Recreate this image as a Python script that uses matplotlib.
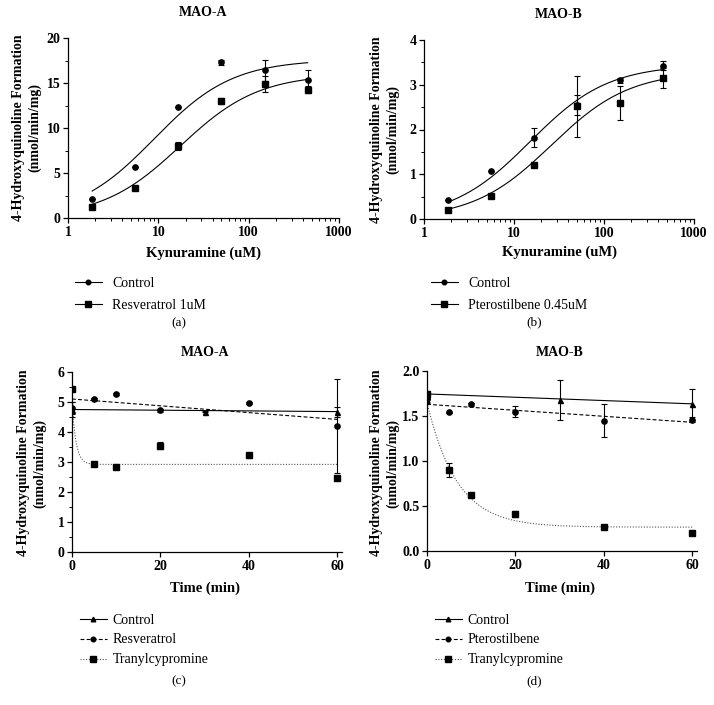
import numpy as np
import matplotlib
matplotlib.use("Agg")
import matplotlib.pyplot as plt
from matplotlib.ticker import LogLocator, MultipleLocator, NullFormatter

plt.rcParams["font.family"] = ["Liberation Serif", "DejaVu Serif"]

# ---- data ----
kyn = [1.85, 5.56, 16.7, 50, 150, 450]

a_ctrl = [2.1, 5.7, 12.35, 17.3, 16.4, 15.3]
a_ctrl_err = [0, 0, 0, 0.25, 1.2, 1.1]
a_resv = [1.25, 3.35, 8.0, 13.0, 14.9, 14.25]
a_resv_err = [0, 0, 0.45, 0.3, 0.9, 0.4]
a_fit_ctrl = (17.6, 9.0)      # Vmax, Km
a_fit_resv = (16.0, 17.5)

b_ctrl = [0.43, 1.07, 1.82, 2.55, 3.1, 3.42]
b_ctrl_err = [0, 0, 0.22, 0.22, 0.05, 0.1]
b_pter = [0.2, 0.52, 1.2, 2.52, 2.6, 3.15]
b_pter_err = [0, 0, 0, 0.68, 0.38, 0.22]
b_fit_ctrl = (3.45, 15.0)
b_fit_pter = (3.3, 26.0)

t_ctrl = [0, 30, 60]
t_trt = [0, 5, 10, 20, 40, 60]

c_ctrl = [4.75, 4.68, 4.68]
c_ctrl_err = [0.25, 0.02, 0.17]
c_resv = [4.8, 5.1, 5.27, 4.73, 4.97, 4.2]
c_resv_err = [0.2, 0.03, 0.03, 0.05, 0.03, 1.57]
c_tran = [5.45, 2.94, 2.83, 3.55, 3.22, 2.48]
c_tran_err = [0.05, 0.05, 0.03, 0.12, 0.07, 0.05]
c_fit_ctrl = (4.75, 4.68)     # start, end of linear fit
c_fit_resv = (5.1, 4.42)
c_fit_tran = (5.0, 2.92, 1.1)  # y0, plateau, k

d_ctrl = [1.72, 1.68, 1.63]
d_ctrl_err = [0.06, 0.22, 0.17]
d_pter = [1.69, 1.54, 1.63, 1.55, 1.45, 1.46]
d_pter_err = [0.04, 0.01, 0.02, 0.06, 0.18, 0.03]
d_tran = [1.74, 0.9, 0.62, 0.41, 0.27, 0.2]
d_tran_err = [0.03, 0.08, 0.01, 0.03, 0.01, 0.01]
d_fit_ctrl = (1.745, 1.635)
d_fit_pter = (1.63, 1.43)
d_fit_tran = (1.65, 0.265, 0.148)

ylab = "4-Hydroxyquinoline Formation\n(nmol/min/mg)"

W, H = 714, 705
fig = plt.figure(figsize=(W / 100, H / 100), dpi=100)


def box(l, r, t, b):
    return [l / W, 1 - b / H, (r - l) / W, (b - t) / H]


def style(ax):
    for s in ["top", "right"]:
        ax.spines[s].set_visible(False)
    for s in ["left", "bottom"]:
        ax.spines[s].set_linewidth(0.9)
    ax.tick_params(which="major", direction="out", length=3.5, width=0.9,
                   labelsize=10, pad=2)
    ax.tick_params(which="minor", direction="out", length=2, width=0.7)
    for lab in ax.get_xticklabels() + ax.get_yticklabels():
        lab.set_fontweight("bold")


def mm(p, x):
    return p[0] * x / (p[1] + x)


def ftxt(x, y, s, **kw):
    fig.text(x / W, 1 - y / H, s, ha="center", va="center", **kw)


mk = dict(color="black", linestyle="none", elinewidth=0.8, capsize=2.2, capthick=0.8)
CS, SS = 3.8, 4.4   # circle / square marker sizes

# ---- (a) ----
ax = fig.add_axes(box(68, 339, 38, 218))
xs = np.logspace(np.log10(1.85), np.log10(450), 200)
ax.plot(xs, mm(a_fit_ctrl, xs), color="black", lw=0.8)
ax.plot(xs, mm(a_fit_resv, xs), color="black", lw=0.8)
ax.errorbar(kyn, a_ctrl, yerr=a_ctrl_err, marker="o", ms=CS, **mk)
ax.errorbar(kyn, a_resv, yerr=a_resv_err, marker="s", ms=SS, **mk)
ax.plot([], [], color="black", lw=0.8, marker="o", ms=3.3, label="Control")
ax.plot([], [], color="black", lw=0.8, marker="s", ms=3.8, label="Resveratrol 1uM")
ax.set_xscale("log")
ax.set_xlim(1, 1000)
ax.set_ylim(0, 20)
ax.set_xticks([1, 10, 100, 1000], ["1", "10", "100", "1000"])
ax.xaxis.set_minor_locator(LogLocator(subs=np.arange(2, 10)))
ax.xaxis.set_minor_formatter(NullFormatter())
ax.set_yticks([0, 5, 10, 15, 20])
ax.yaxis.set_minor_locator(MultipleLocator(2.5))
style(ax)
ax.legend(loc="upper left", bbox_to_anchor=(62 / W, 1 - 264 / H), bbox_transform=fig.transFigure,
          frameon=False, fontsize=10, handlelength=2.0, handletextpad=0.7, labelspacing=0.65)
ftxt(203, 13, "MAO-A", fontsize=10, fontweight="bold")
ftxt(203, 253, "Kynuramine (uM)", fontsize=10.5, fontweight="bold")
ftxt(27, 128, ylab, fontsize=10, fontweight="bold", rotation=90, linespacing=1.3)
ftxt(179, 323, "(a)", fontsize=9.5)

# ---- (b) ----
ax = fig.add_axes(box(424, 694, 40, 219))
ax.plot(xs, mm(b_fit_ctrl, xs), color="black", lw=0.8)
ax.plot(xs, mm(b_fit_pter, xs), color="black", lw=0.8)
ax.errorbar(kyn, b_ctrl, yerr=b_ctrl_err, marker="o", ms=CS, **mk)
ax.errorbar(kyn, b_pter, yerr=b_pter_err, marker="s", ms=SS, **mk)
ax.plot([], [], color="black", lw=0.8, marker="o", ms=3.3, label="Control")
ax.plot([], [], color="black", lw=0.8, marker="s", ms=3.8, label="Pterostilbene 0.45uM")
ax.set_xscale("log")
ax.set_xlim(1, 1000)
ax.set_ylim(0, 4)
ax.set_xticks([1, 10, 100, 1000], ["1", "10", "100", "1000"])
ax.xaxis.set_minor_locator(LogLocator(subs=np.arange(2, 10)))
ax.xaxis.set_minor_formatter(NullFormatter())
ax.set_yticks([0, 1, 2, 3, 4])
ax.yaxis.set_minor_locator(MultipleLocator(0.5))
style(ax)
ax.legend(loc="upper left", bbox_to_anchor=(418 / W, 1 - 264 / H), bbox_transform=fig.transFigure,
          frameon=False, fontsize=10, handlelength=2.0, handletextpad=0.7, labelspacing=0.65)
ftxt(559, 15, "MAO-B", fontsize=10, fontweight="bold")
ftxt(559, 252, "Kynuramine (uM)", fontsize=10.5, fontweight="bold")
ftxt(385, 130, ylab, fontsize=10, fontweight="bold", rotation=90, linespacing=1.3)
ftxt(534, 322, "(b)", fontsize=9.5)

# ---- (c) ----
ts = np.linspace(0, 60, 300)
ax = fig.add_axes(box(72, 342, 372, 552))
ax.plot([0, 60], c_fit_ctrl, color="black", lw=0.8)
ax.plot([0, 60], c_fit_resv, color="black", lw=0.8, ls=(0, (3.5, 2)))
y0, pl, k = c_fit_tran
ax.plot(ts, pl + (y0 - pl) * np.exp(-k * ts), color="#555555", lw=0.8, ls=(0, (1, 1.5)))
ax.errorbar(t_ctrl, c_ctrl, yerr=c_ctrl_err, marker="^", ms=3.6, **mk)
ax.errorbar(t_trt, c_resv, yerr=c_resv_err, marker="o", ms=CS, **mk)
ax.errorbar(t_trt, c_tran, yerr=c_tran_err, marker="s", ms=SS, **mk)
ax.plot([], [], color="black", lw=0.8, marker="^", ms=3.3, label="Control")
ax.plot([], [], color="black", lw=0.8, ls=(0, (3.5, 2)), marker="o", ms=3.3, label="Resveratrol")
ax.plot([], [], color="#555555", mfc="black", mec="black", lw=0.8, ls=(0, (1, 1.5)),
        marker="s", ms=3.8, label="Tranylcypromine")
ax.set_xlim(0, 61.1)
ax.set_ylim(0, 6)
ax.set_xticks([0, 20, 40, 60])
ax.set_yticks([0, 1, 2, 3, 4, 5, 6])
ax.yaxis.set_minor_locator(MultipleLocator(0.5))
style(ax)
ax.legend(loc="upper left", bbox_to_anchor=(67 / W, 1 - 601 / H), bbox_transform=fig.transFigure,
          frameon=False, fontsize=10, handlelength=2.0, handletextpad=0.4, labelspacing=0.5)
ftxt(205, 353, "MAO-A", fontsize=10, fontweight="bold")
ftxt(205, 588, "Time (min)", fontsize=10.5, fontweight="bold")
ftxt(32, 463, ylab, fontsize=10, fontweight="bold", rotation=90, linespacing=1.3)
ftxt(179, 681, "(c)", fontsize=9.5)

# ---- (d) ----
ax = fig.add_axes(box(427, 697, 371, 551))
ax.plot([0, 60], d_fit_ctrl, color="black", lw=0.8)
ax.plot([0, 60], d_fit_pter, color="black", lw=0.8, ls=(0, (3.5, 2)))
y0, pl, k = d_fit_tran
ax.plot(ts, pl + (y0 - pl) * np.exp(-k * ts), color="#555555", lw=0.8, ls=(0, (1, 1.5)))
ax.errorbar(t_ctrl, d_ctrl, yerr=d_ctrl_err, marker="^", ms=3.6, **mk)
ax.errorbar(t_trt, d_pter, yerr=d_pter_err, marker="o", ms=CS, **mk)
ax.errorbar(t_trt, d_tran, yerr=d_tran_err, marker="s", ms=SS, **mk)
ax.plot([], [], color="black", lw=0.8, marker="^", ms=3.3, label="Control")
ax.plot([], [], color="black", lw=0.8, ls=(0, (3.5, 2)), marker="o", ms=3.3, label="Pterostilbene")
ax.plot([], [], color="#555555", mfc="black", mec="black", lw=0.8, ls=(0, (1, 1.5)),
        marker="s", ms=3.8, label="Tranylcypromine")
ax.set_xlim(0, 61.1)
ax.set_ylim(0, 2)
ax.set_xticks([0, 20, 40, 60])
ax.set_yticks([0, 0.5, 1.0, 1.5, 2.0], ["0.0", "0.5", "1.0", "1.5", "2.0"])
style(ax)
ax.legend(loc="upper left", bbox_to_anchor=(422 / W, 1 - 601 / H), bbox_transform=fig.transFigure,
          frameon=False, fontsize=10, handlelength=2.0, handletextpad=0.4, labelspacing=0.5)
ftxt(560, 353, "MAO-B", fontsize=10, fontweight="bold")
ftxt(560, 588, "Time (min)", fontsize=10.5, fontweight="bold")
ftxt(385, 463, ylab, fontsize=10, fontweight="bold", rotation=90, linespacing=1.3)
ftxt(534, 681, "(d)", fontsize=9.5)

fig.savefig("out.png", dpi=100)
